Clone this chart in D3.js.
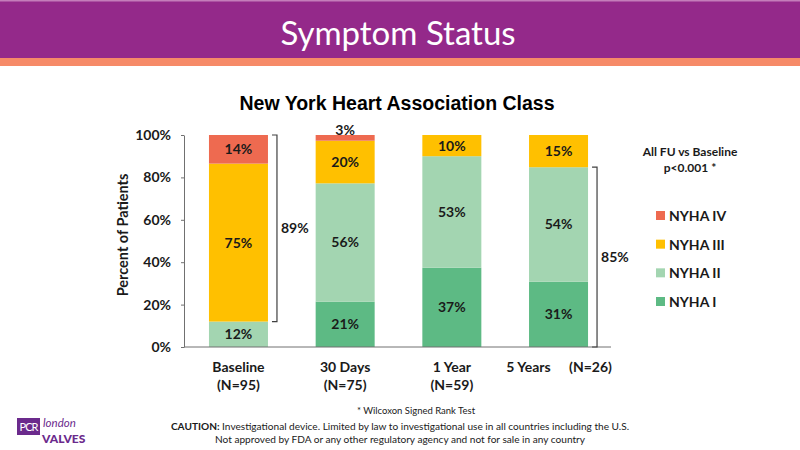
<!DOCTYPE html>
<html lang="en">
<head>
  <meta charset="UTF-8">
  <title>Symptom Status</title>
  <script src="https://cdn.jsdelivr.net/npm/d3@7"></script>
  <style>
    body { margin: 0; background: #fff; }
    svg { display: block; font-family: 'Lato', sans-serif; }
  </style>
</head>
<body>
  <div id="canvas"></div>
  <script>
    const categories = ['Baseline', '30 Days', '1 Year', '5 Years'];
    const nLabels = ['(N=95)', '(N=75)', '(N=59)', '(N=26)'];
    const seriesNames = ['NYHA I', 'NYHA II', 'NYHA III', 'NYHA IV'];
    const nyhaI = [0, 21.4, 37.4, 30.8];
    const nyhaII = [12, 55.8, 52.6, 54.0];
    const nyhaIII = [74.5, 20.1, 10, 15.2];
    const nyhaIV = [13.5, 2.7, 0, 0];
    const yTicks = [0, 20, 40, 60, 80, 100];
    const brackets = [
      { cat: 'Baseline', from: 12, to: 100, text: '89%' },
      { cat: '5 Years', from: 0, to: 84.8, text: '85%' }
    ];
    const colors = ['#5dba84', '#a3d5b1', '#ffc000', '#ee6a50'];

    const width = 800;
    const height = 450;

    const svg = d3.select('#canvas')
      .append('svg')
      .attr('width', width)
      .attr('height', height);

    // header band
    svg.append('rect').attr('x', 0).attr('y', 0).attr('width', width).attr('height', 58).attr('fill', '#94298a');
    svg.append('rect').attr('x', 0).attr('y', 0).attr('width', width).attr('height', 1.5).attr('fill', '#c47dba');
    svg.append('rect').attr('x', 0).attr('y', 58).attr('width', width).attr('height', 8).attr('fill', '#f68a68');
    svg.append('text')
      .attr('x', 398).attr('y', 45)
      .attr('text-anchor', 'middle')
      .attr('fill', '#fff')
      .style('font-size', '33px')
      .text('Symptom Status');

    svg.append('text')
      .attr('x', 397).attr('y', 110)
      .attr('text-anchor', 'middle')
      .style('font-family', "'Liberation Sans', Arial, sans-serif")
      .style('font-weight', 'bold')
      .style('font-size', '19.5px')
      .text('New York Heart Association Class');

    const scaleX = d3.scaleBand()
      .domain(categories)
      .range([184, 613])
      .paddingInner(0.447)
      .paddingOuter(0.234);

    const scaleY = d3.scaleLinear()
      .domain([0, 100])
      .range([347, 135]);

    const table = categories.map((c, i) => ({
      cat: c, 'NYHA I': nyhaI[i], 'NYHA II': nyhaII[i], 'NYHA III': nyhaIII[i], 'NYHA IV': nyhaIV[i]
    }));
    const stacked = d3.stack().keys(seriesNames)(table);

    const layers = svg.append('g')
      .selectAll('g')
      .data(stacked)
      .enter()
      .append('g')
      .attr('fill', (d, i) => colors[i]);

    layers.selectAll('rect')
      .data(d => d)
      .enter()
      .append('rect')
      .attr('x', d => scaleX(d.data.cat))
      .attr('y', d => scaleY(d[1]))
      .attr('width', scaleX.bandwidth())
      .attr('height', d => scaleY(d[0]) - scaleY(d[1]));

    layers.selectAll('text')
      .data(d => d.filter(p => p[1] - p[0] > 0))
      .enter()
      .append('text')
      .attr('x', d => scaleX(d.data.cat) + scaleX.bandwidth() / 2)
      .attr('y', d => (d[1] - d[0]) < 5 ? scaleY(d[1]) : scaleY((d[0] + d[1]) / 2) + 5)
      .attr('text-anchor', 'middle')
      .attr('fill', '#1a1a1a')
      .style('font-weight', 'bold')
      .style('font-size', '14px')
      .text(d => Math.round(d[1] - d[0]) + '%');

    // axes
    const yAxis = d3.axisLeft(scaleY)
      .tickValues(yTicks)
      .tickSize(3)
      .tickSizeOuter(0)
      .tickPadding(10)
      .tickFormat(d => d + '%');
    const gy = svg.append('g')
      .attr('transform', 'translate(184,0)')
      .call(yAxis);
    gy.selectAll('text')
      .attr('fill', '#1a1a1a')
      .style('font-family', "'Lato', sans-serif")
      .style('font-weight', 'bold')
      .style('font-size', '14px');
    gy.selectAll('line, path').attr('stroke', '#707070');

    const xAxis = d3.axisBottom(scaleX).tickValues([]).tickSizeOuter(0);
    const gx = svg.append('g')
      .attr('transform', 'translate(0,347)')
      .call(xAxis);
    gx.select('path').attr('d', 'M184,0H611').attr('stroke', '#707070');

    svg.append('text')
      .attr('transform', 'translate(128,235) rotate(-90)')
      .attr('text-anchor', 'middle')
      .attr('fill', '#1a1a1a')
      .style('font-weight', 'bold')
      .style('font-size', '14.5px')
      .text('Percent of Patients');

    // category labels
    categories.forEach((c, i) => {
      const cx = scaleX(c) + scaleX.bandwidth() / 2;
      const last = i === categories.length - 1;
      svg.append('text')
        .attr('x', last ? cx - 30 : cx).attr('y', 372)
        .attr('text-anchor', 'middle')
        .attr('fill', '#1a1a1a')
        .style('font-weight', 'bold').style('font-size', '14px')
        .text(c);
      svg.append('text')
        .attr('x', last ? cx + 32 : cx).attr('y', last ? 372 : 390)
        .attr('text-anchor', 'middle')
        .attr('fill', '#1a1a1a')
        .style('font-weight', 'bold').style('font-size', '14px')
        .text(nLabels[i]);
    });

    // brackets
    brackets.forEach(b => {
      const bx = scaleX(b.cat) + scaleX.bandwidth() + 9;
      const y0 = scaleY(b.from);
      const y1 = scaleY(b.to);
      svg.append('path')
        .attr('d', `M${bx - 5},${y1}H${bx}V${y0}H${bx - 5}`)
        .attr('fill', 'none')
        .attr('stroke', '#404040')
        .attr('stroke-width', 1.2);
      svg.append('text')
        .attr('x', bx + 4).attr('y', (y0 + y1) / 2 + 5)
        .attr('fill', '#1a1a1a')
        .style('font-weight', 'bold').style('font-size', '14px')
        .text(b.text);
    });

    // p-value note
    svg.append('text')
      .attr('x', 690).attr('y', 156)
      .attr('text-anchor', 'middle')
      .attr('fill', '#1a1a1a')
      .style('font-weight', 'bold').style('font-size', '12px')
      .text('All FU vs Baseline');
    svg.append('text')
      .attr('x', 690).attr('y', 172)
      .attr('text-anchor', 'middle')
      .attr('fill', '#1a1a1a')
      .style('font-weight', 'bold').style('font-size', '12px')
      .text('p<0.001 *');

    // legend, top to bottom NYHA IV .. NYHA I
    const legendY = d3.scalePoint()
      .domain(seriesNames.slice().reverse())
      .range([216, 302]);
    const legend = svg.append('g')
      .selectAll('g')
      .data(seriesNames)
      .enter()
      .append('g')
      .attr('transform', d => 'translate(656,' + legendY(d) + ')');
    legend.append('rect')
      .attr('x', 0).attr('y', -5)
      .attr('width', 9).attr('height', 9)
      .attr('fill', (d, i) => colors[i]);
    legend.append('text')
      .attr('x', 13).attr('y', 5)
      .attr('fill', '#1a1a1a')
      .style('font-weight', 'bold').style('font-size', '14px')
      .text(d => d);

    // footer
    svg.append('text')
      .attr('x', 416).attr('y', 414)
      .attr('text-anchor', 'middle')
      .attr('fill', '#1a1a1a')
      .style('font-size', '9.5px')
      .text('* Wilcoxon Signed Rank Test');
    const caution = svg.append('text')
      .attr('x', 400).attr('y', 430)
      .attr('text-anchor', 'middle')
      .attr('fill', '#1a1a1a')
      .style('font-size', '10.1px');
    caution.append('tspan').style('font-weight', 'bold').text('CAUTION:');
    caution.append('tspan').text(' Investigational device. Limited by law to investigational use in all countries including the U.S.');
    svg.append('text')
      .attr('x', 400).attr('y', 443)
      .attr('text-anchor', 'middle')
      .attr('fill', '#1a1a1a')
      .style('font-size', '10.1px')
      .text('Not approved by FDA or any other regulatory agency and not for sale in any country');

    // logo
    svg.append('rect').attr('x', 17).attr('y', 418).attr('width', 23).attr('height', 17).attr('fill', '#6b2a8c');
    svg.append('text')
      .attr('x', 28.5).attr('y', 431)
      .attr('text-anchor', 'middle')
      .attr('fill', '#fff')
      .style('font-size', '11px')
      .style('letter-spacing', '-1px')
      .text('PCR');
    svg.append('text')
      .attr('x', 43).attr('y', 427)
      .attr('fill', '#6b2a8c')
      .style('font-style', 'italic')
      .style('font-size', '11.5px')
      .text('london');
    svg.append('text')
      .attr('x', 42).attr('y', 443)
      .attr('fill', '#6b2a8c')
      .style('font-weight', '900')
      .style('font-size', '12px')
      .text('VALVES');
  </script>
</body>
</html>
